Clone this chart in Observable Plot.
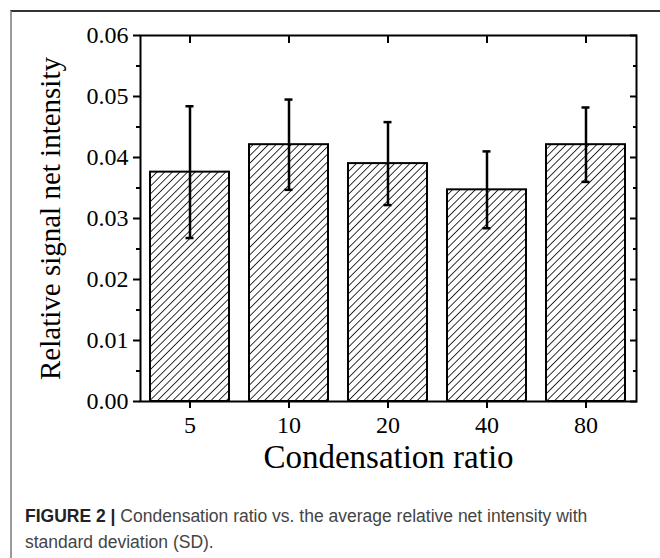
<!DOCTYPE html>
<html><head><meta charset="utf-8">
<script src="https://cdn.jsdelivr.net/npm/d3@7"></script>
<script src="https://cdn.jsdelivr.net/npm/@observablehq/plot@0.6"></script>
<style>
html,body{margin:0;padding:0;background:#fff;}
body{width:660px;height:558px;position:relative;overflow:hidden;}
#chart{position:absolute;left:0;top:0;}
#frame{position:absolute;left:10px;top:10px;width:650px;height:560px;border-left:2px solid #9a9a9a;border-top:2px solid #333;box-sizing:border-box;pointer-events:none;}
#caption{position:absolute;left:25px;top:503px;width:630px;font-family:"Liberation Sans",Arial,sans-serif;font-size:17.5px;line-height:26px;color:#444;}
#caption b{color:#222;}
</style></head><body>
<div id="chart"></div>
<div id="frame"></div>
<div id="caption"><b>FIGURE 2 |</b> Condensation ratio vs. the average relative net intensity with<br>standard deviation (SD).</div>
<script>
const ratios = ["5", "10", "20", "40", "80"];
const means = [0.0376, 0.0421, 0.0390, 0.0347, 0.0421];
const sds = [0.0108, 0.0074, 0.0068, 0.0063, 0.0061];
const yTicks = [0, 0.01, 0.02, 0.03, 0.04, 0.05, 0.06];
const yMinor = [0.005, 0.015, 0.025, 0.035, 0.045, 0.055];
const xTitle = "Condensation ratio";
const yTitle = "Relative signal net intensity";

const data = ratios.map((r, i) => ({ratio: r, mean: means[i], sd: sds[i]}));

const svg = Plot.plot({
  width: 660,
  height: 490,
  marginLeft: 140,
  marginRight: 24,
  marginTop: 35,
  marginBottom: 89,
  style: {fontFamily: "'Liberation Serif', 'Times New Roman', serif", fontSize: "24px", background: "transparent", color: "black"},
  x: {type: "band", domain: ratios, paddingInner: 0.2, paddingOuter: 0.09},
  y: {domain: [0, 0.06]},
  marks: [
    Plot.barY(data, {x: "ratio", y: "mean", fill: "url(#hatch)", stroke: "black", strokeWidth: 2}),
    Plot.ruleX(data, {x: "ratio", y1: d => d.mean - d.sd, y2: d => d.mean + d.sd, stroke: "black", strokeWidth: 2.5}),
    Plot.tickY(data, {x: "ratio", y: d => d.mean + d.sd, stroke: "black", strokeWidth: 2.5, inset: 35.5}),
    Plot.tickY(data, {x: "ratio", y: d => d.mean - d.sd, stroke: "black", strokeWidth: 2.5, inset: 35.5}),
    Plot.frame({stroke: "black", strokeWidth: 2}),
    Plot.axisY({ticks: yTicks, tickSize: 7, tickPadding: 5, strokeWidth: 2, tickFormat: d => d.toFixed(2), label: null}),
    Plot.axisY({ticks: yMinor, tickSize: 4, strokeWidth: 2, text: null, label: null}),
    Plot.axisY({anchor: "right", ticks: yTicks, tickSize: 7, dx: -7, strokeWidth: 2, text: null, label: null}),
    Plot.axisY({anchor: "right", ticks: yMinor, tickSize: 4, dx: -4, strokeWidth: 2, text: null, label: null}),
    Plot.axisX({tickSize: 7, tickPadding: 7, strokeWidth: 2, label: null}),
    Plot.axisX({anchor: "top", tickSize: 7, dy: 7, strokeWidth: 2, text: null, label: null}),
    Plot.text([xTitle], {text: d => d, frameAnchor: "bottom", dy: 66, fontSize: 33}),
    Plot.text([yTitle], {text: d => d, frameAnchor: "left", textAnchor: "middle", dx: -90, rotate: -90, fontSize: 29})
  ]
});

const defs = d3.select(svg).insert("defs", ":first-child");
const pat = defs.append("pattern")
  .attr("id", "hatch")
  .attr("patternUnits", "userSpaceOnUse")
  .attr("width", 5.4)
  .attr("height", 5.4)
  .attr("patternTransform", "rotate(45)");
pat.append("rect").attr("width", 5.4).attr("height", 5.4).attr("fill", "white");
pat.append("line").attr("x1", 0).attr("y1", 0).attr("x2", 0).attr("y2", 5.4)
  .attr("stroke", "black").attr("stroke-width", 1.6);

document.getElementById("chart").appendChild(svg);
</script>
</body></html>
